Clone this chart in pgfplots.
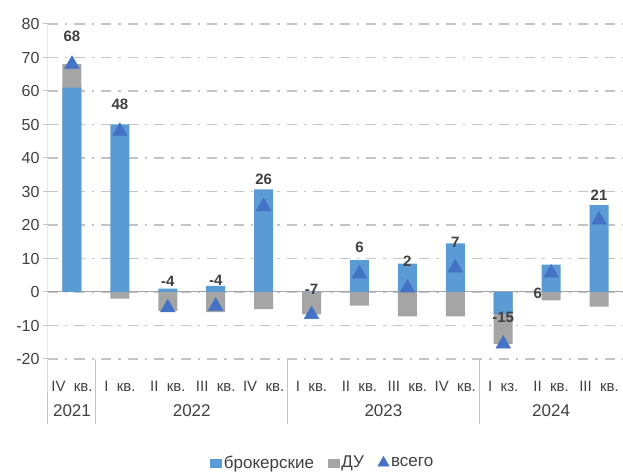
\documentclass[border=0pt]{standalone}
\usepackage{fontspec}
\setmainfont{Liberation Sans}
\usepackage{pgfplots}
\pgfplotsset{compat=1.18}
\usetikzlibrary{calc}
\definecolor{brok}{HTML}{5B9BD5}
\definecolor{du}{HTML}{A5A5A5}
\definecolor{tot}{HTML}{4472C4}
\definecolor{txt}{HTML}{404040}
\definecolor{grd}{HTML}{C4C4C4}
\definecolor{zer}{HTML}{A6A6A6}

\begin{document}
\begin{tikzpicture}
\begin{axis}[
  scale only axis, width=575pt, height=335pt,
  xmin=0.5, xmax=12.5, ymin=-20, ymax=80,
  clip=false,
  axis line style={draw=none},
  ytick={-20,-10,...,80},
  yticklabels={-20,-10,0,10,20,30,40,50,60,70,80},
  ytick pos=left, tick align=outside, major tick length=5pt,
  ytick style={grd, line width=1pt},
  yticklabel style={font=\fontsize{16}{18}\selectfont, text=txt},
  ymajorgrids,
  grid style={grd, line width=1.6pt, dash pattern=on 10pt off 7pt on 2.5pt off 7pt},
  xtick={1,...,12},
  xticklabels={IV~~кв.,I~~кв.,II~~кв.,III~~кв.,IV~~кв.,I~~кв.,II~~кв.,III~~кв.,IV~~кв.,I~~кз.,II~~кв.,III~~кв.},
  xtick style={draw=none},
  xticklabel style={font=\fontsize{15}{17}\selectfont, text=txt, anchor=base, yshift=-28pt},
  legend columns=3,
  legend style={draw=none, at={(axis description cs:0.478,-0.31)}, anchor=center,
    font=\fontsize{17}{19}\selectfont, text=txt, inner sep=0pt,
    /tikz/every even column/.append style={column sep=12pt}},
]
% vertical axis line and group separators
\draw[grd, line width=1pt] (axis cs:0.5,80) -- (axis cs:0.5,-20) -- ([yshift=-65pt]axis cs:0.5,-20);
\draw[grd, line width=1pt] (axis cs:1.5,-20) -- ([yshift=-65pt]axis cs:1.5,-20);
\draw[grd, line width=1pt] (axis cs:5.5,-20) -- ([yshift=-65pt]axis cs:5.5,-20);
\draw[grd, line width=1pt] (axis cs:9.5,-20) -- ([yshift=-65pt]axis cs:9.5,-20);
% zero line
\draw[zer, line width=1pt] (axis cs:0.5,0) -- (axis cs:12.5,0);

\addlegendimage{legend image code/.code={\fill[brok] (0pt,-4pt) rectangle (11pt,4pt);}}
\addlegendentry{брокерские}
\addlegendimage{legend image code/.code={\fill[du] (0pt,-4pt) rectangle (11pt,4pt);}}
\addlegendentry{ДУ}
\addlegendimage{only marks, mark=triangle*, mark size=6.5pt, color=tot}
\addlegendentry{всего}

% ДУ (drawn from zero; where both parts share a sign, to the stacked end)
\addplot[ybar, bar width=19pt, bar shift=0pt, fill=du, draw=none, forget plot] coordinates {
(1,68) (2,-2) (3,-5.7) (4,-6) (5,-5.1) (6,-6.7) (7,-4.1) (8,-7.3) (9,-7.3) (10,-15.5) (11,-2.5) (12,-4.4)};
% брокерские
\addplot[ybar, bar width=19pt, bar shift=0pt, fill=brok, draw=none, forget plot] coordinates {
(1,61) (2,50) (3,1) (4,1.8) (5,30.6) (6,0) (7,9.5) (8,8.5) (9,14.5) (10,-6.5) (11,8.2) (12,25.9)};
% всего
\addplot[only marks, mark=triangle*, mark size=8.5pt, color=tot, forget plot] coordinates {
(1,68) (2,48) (3,-4.7) (4,-4.2) (5,25.5) (6,-6.7) (7,5.4) (8,1.2) (9,7.2) (10,-15.5) (11,5.7) (12,21.5)};

% value labels
\begin{scope}[every node/.style={font=\bfseries\fontsize{15}{17}\selectfont, text=txt}]
\node at (axis cs:1,76.2) {68};
\node at (axis cs:2,56) {48};
\node at (axis cs:3,3.2) {-4};
\node at (axis cs:4,3.6) {-4};
\node at (axis cs:5,33.6) {26};
\node at (axis cs:6,0.8) {-7};
\node at (axis cs:7,13.4) {6};
\node at (axis cs:8,9.2) {2};
\node at (axis cs:9,14.9) {7};
\node at (axis cs:10,-7.7) {-15};
\node at (axis cs:10.72,-0.3) {6};
\node at (axis cs:12,28.9) {21};
\end{scope}

% years
\begin{scope}[every node/.style={font=\fontsize{17}{19}\selectfont, text=txt, anchor=base, yshift=-58pt}]
\node at (axis cs:1,-20) {2021};
\node at (axis cs:3.5,-20) {2022};
\node at (axis cs:7.5,-20) {2023};
\node at (axis cs:11,-20) {2024};
\end{scope}
\end{axis}
\pgfresetboundingbox
\path[use as bounding box] ($(current axis.south west)+(-48pt,-113pt)$) rectangle ($(current axis.north east)+(0pt,24pt)$);
\end{tikzpicture}
\end{document}
